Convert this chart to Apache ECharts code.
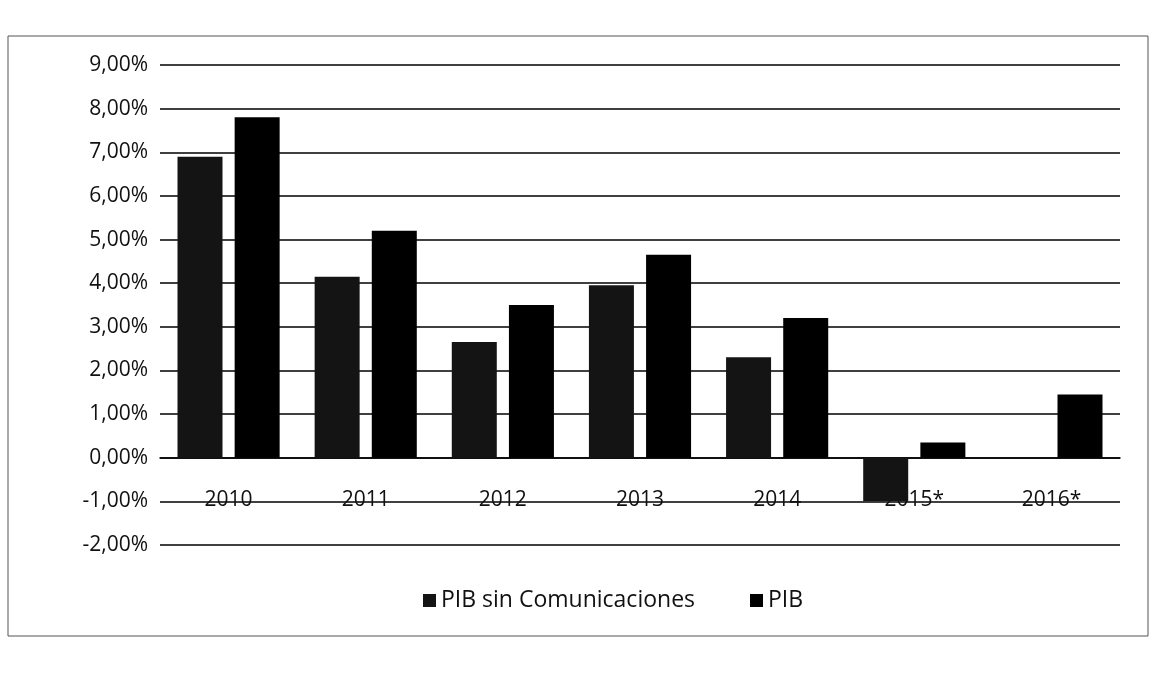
<!DOCTYPE html>
<html>
<head>
<meta charset="utf-8">
<script src="https://cdn.jsdelivr.net/npm/echarts@6/dist/echarts.min.js"></script>
<style>
html,body{margin:0;padding:0;background:#fff;}
#chart{width:1157px;height:673px;}
</style>
</head>
<body>
<div id="chart"></div>
<script>
const categories = ['2010', '2011', '2012', '2013', '2014', '2015*', '2016*'];
const pibSinCom = [6.9, 4.15, 2.65, 3.95, 2.3, -1.0, 0];
const pib = [7.8, 5.2, 3.5, 4.65, 3.2, 0.35, 1.45];
const seriesNames = ['PIB sin Comunicaciones', 'PIB'];

const chart = echarts.init(document.getElementById('chart'));
const font = '"Open Sans", "Noto Sans", sans-serif';
const gridHeight = 480;
const yMin = -2, yMax = 9;
chart.setOption({
  animation: false,
  backgroundColor: '#fff',
  graphic: [{
    type: 'rect',
    shape: { x: 8, y: 36, width: 1140, height: 600 },
    style: { fill: 'none', stroke: '#555', lineWidth: 1 }
  }],
  legend: {
    data: seriesNames,
    left: 418,
    top: 584,
    itemWidth: 13,
    itemHeight: 13,
    itemGap: 55,
    icon: 'rect',
    textStyle: { fontFamily: font, fontSize: 23, color: '#111' }
  },
  grid: { left: 160, right: 37, top: 65, height: gridHeight },
  xAxis: {
    type: 'category',
    data: categories,
    offset: -gridHeight / (yMax - yMin) * (0 - yMin),
    axisLine: { onZero: false, lineStyle: { color: '#000', width: 1.5 } },
    axisTick: { show: false },
    axisLabel: { fontFamily: font, fontSize: 21, color: '#111', margin: 32 }
  },
  yAxis: {
    type: 'value',
    min: yMin,
    max: yMax,
    interval: 1,
    axisLine: { show: false },
    axisTick: { show: false },
    splitLine: { lineStyle: { color: '#000', width: 1.5 } },
    axisLabel: {
      fontFamily: font, fontSize: 21, color: '#111', margin: 12,
      formatter: v => v.toFixed(2).replace('.', ',') + '%'
    }
  },
  series: [
    { name: seriesNames[0], type: 'bar', data: pibSinCom, barWidth: 45, barGap: '27%', itemStyle: { color: '#141414' } },
    { name: seriesNames[1], type: 'bar', data: pib, barWidth: 45, barGap: '27%', itemStyle: { color: '#000' } }
  ]
});
</script>
</body>
</html>
